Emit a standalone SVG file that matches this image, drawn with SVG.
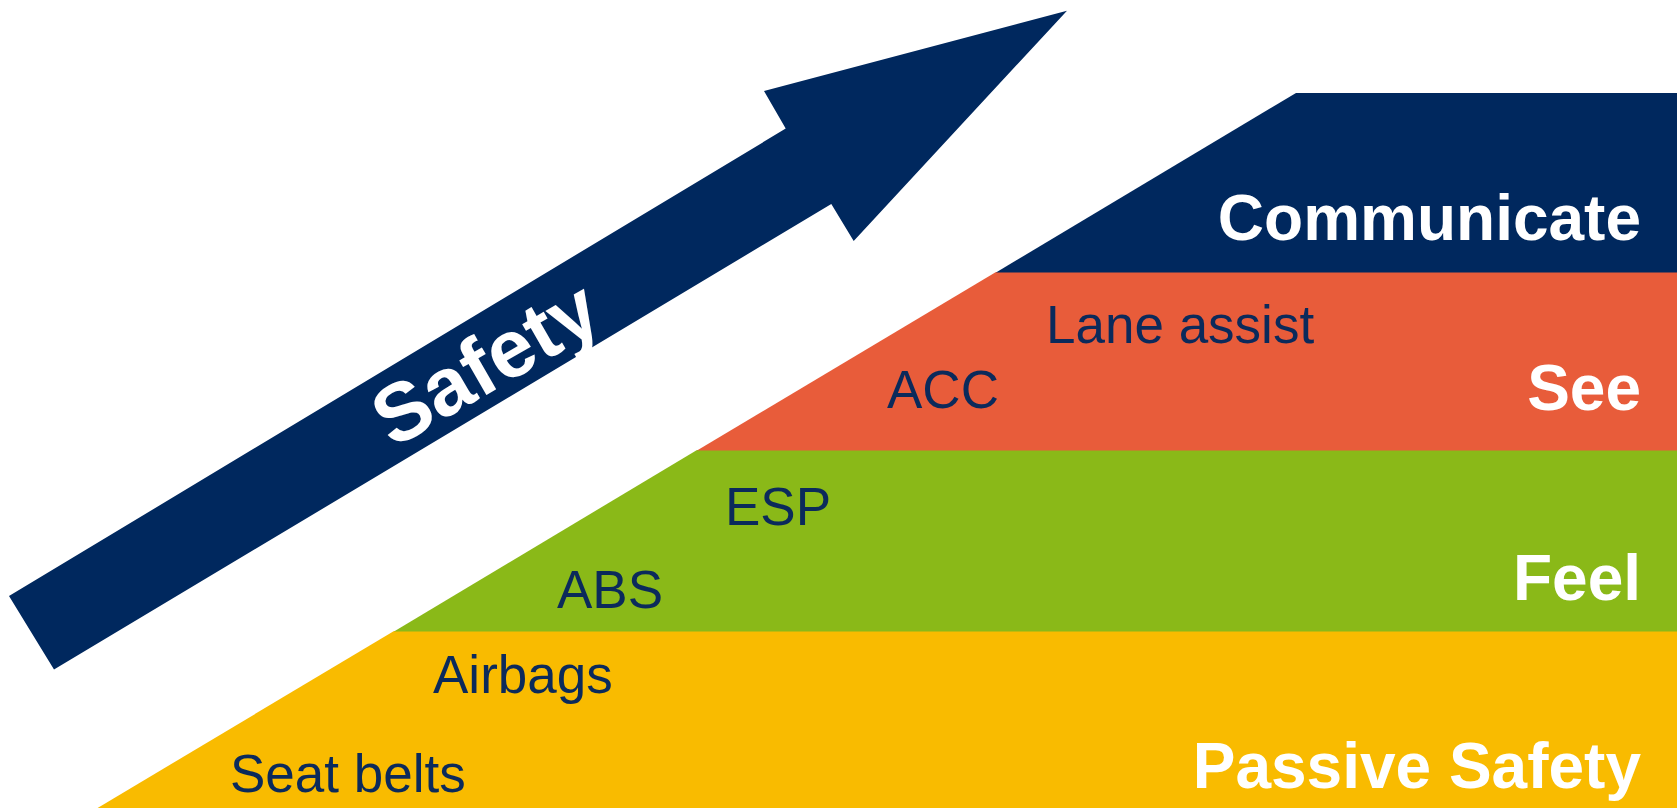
<svg xmlns="http://www.w3.org/2000/svg" width="1677" height="808" viewBox="0 0 1677 808">
  <style>
    .label { font-family: "Liberation Sans", Arial, sans-serif; font-size: 53px; fill: #0B2A5B; }
    .level { font-family: "Liberation Sans", Arial, sans-serif; font-size: 64px; font-weight: bold; fill: #FFFFFF; text-anchor: end; }
    .arrow-text { font-family: "Liberation Sans", Arial, sans-serif; font-size: 82px; font-weight: bold; fill: #FFFFFF; text-anchor: middle; }
  </style>
  <rect width="1677" height="808" fill="#FFFFFF"/>

  <!-- Rising safety arrow -->
  <g id="safety-arrow">
    <polygon points="9,596 785.7,128.6 764,91 1067,10.7 853.7,241 831.3,204 54,669.6" fill="#00285E"/>
    <text class="arrow-text" transform="translate(486,364) rotate(-30)" y="27">Safety</text>
  </g>

  <!-- Stepped levels, bottom to top -->
  <g id="level-passive">
    <polygon points="394,631 1677,631 1677,808 97.6,808" fill="#F9BB00"/>
    <text class="level" x="1641" y="788">Passive Safety</text>
    <text class="label" x="230" y="792">Seat belts</text>
    <text class="label" x="433" y="693">Airbags</text>
  </g>

  <g id="level-feel">
    <polygon points="697,450 1677,450 1677,631.5 394,631.5" fill="#8AB918"/>
    <text class="level" x="1641" y="600">Feel</text>
    <text class="label" x="557" y="608">ABS</text>
    <text class="label" x="725" y="525">ESP</text>
  </g>

  <g id="level-see">
    <polygon points="996,272 1677,272 1677,450.5 697,450.5" fill="#E85C3A"/>
    <text class="level" x="1641" y="410">See</text>
    <text class="label" x="887" y="408">ACC</text>
    <text class="label" x="1046" y="343">Lane assist</text>
  </g>

  <g id="level-communicate">
    <polygon points="1296,93 1677,93 1677,272.5 996,272.5" fill="#00285E"/>
    <text class="level" x="1641" y="240">Communicate</text>
  </g>
</svg>
